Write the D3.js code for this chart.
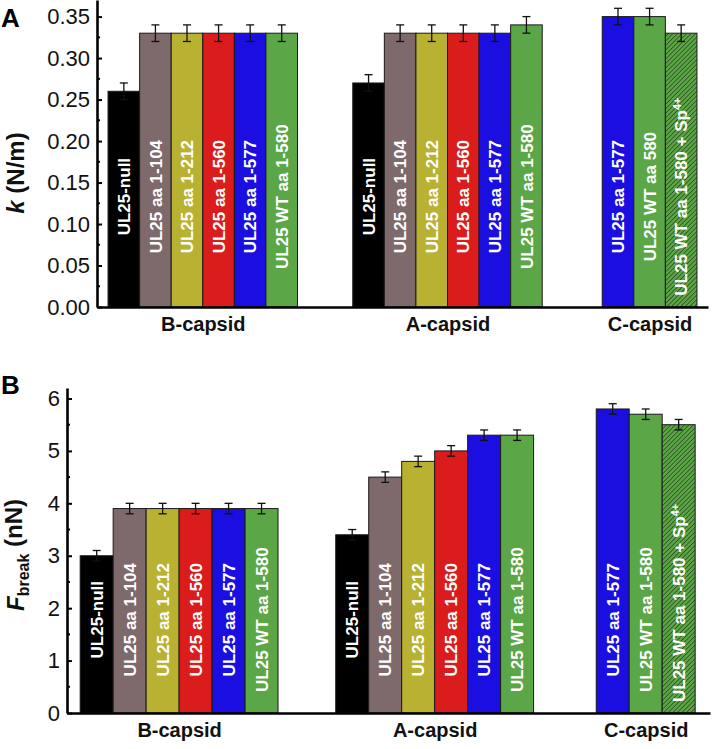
<!DOCTYPE html>
<html>
<head>
<meta charset="utf-8">
<script src="https://cdn.jsdelivr.net/npm/d3@7/dist/d3.min.js"></script>
<style>
  body { margin: 0; background: #fff; }
  text { font-family: "Liberation Sans", Arial, sans-serif; }
</style>
</head>
<body>
<div id="chart"></div>
<script>
// groups and bars
var groupNames = ["B-capsid", "A-capsid", "C-capsid"];
var barGroup = [0, 0, 0, 0, 0, 0, 1, 1, 1, 1, 1, 1, 2, 2, 2];
var barVariant = ["null", "104", "212", "560", "577", "580",
                  "null", "104", "212", "560", "577", "580",
                  "577", "580", "sp"];

var kLabels = ["UL25-null", "UL25 aa 1-104", "UL25 aa 1-212", "UL25 aa 1-560", "UL25 aa 1-577", "UL25 WT aa 1-580",
               "UL25-null", "UL25 aa 1-104", "UL25 aa 1-212", "UL25 aa 1-560", "UL25 aa 1-577", "UL25 WT aa 1-580",
               "UL25 aa 1-577", "UL25 WT aa 580", "UL25 WT aa 1-580 + Sp"];
var fLabels = ["UL25-null", "UL25 aa 1-104", "UL25 aa 1-212", "UL25 aa 1-560", "UL25 aa 1-577", "UL25 WT aa 1-580",
               "UL25-null", "UL25 aa 1-104", "UL25 aa 1-212", "UL25 aa 1-560", "UL25 aa 1-577", "UL25 WT aa 1-580",
               "UL25 aa 1-577", "UL25 WT aa 1-580", "UL25 WT aa 1-580 + Sp"];

// spring constant k (N/m)
var kValues = [0.26, 0.33, 0.33, 0.33, 0.33, 0.33,
               0.27, 0.33, 0.33, 0.33, 0.33, 0.34,
               0.35, 0.35, 0.33];
var kErrors = [0.01, 0.01, 0.01, 0.01, 0.01, 0.01,
               0.01, 0.01, 0.01, 0.01, 0.01, 0.01,
               0.01, 0.01, 0.01];
var kTicks = [0, 0.05, 0.10, 0.15, 0.20, 0.25, 0.30, 0.35];

// breaking force (nN)
var fValues = [3.0, 3.9, 3.9, 3.9, 3.9, 3.9,
               3.4, 4.5, 4.8, 5.0, 5.3, 5.3,
               5.8, 5.7, 5.5];
var fErrors = [0.1, 0.1, 0.1, 0.1, 0.1, 0.1,
               0.1, 0.1, 0.1, 0.1, 0.1, 0.1,
               0.1, 0.1, 0.1];
var fTicks = [0, 1, 2, 3, 4, 5, 6];

var colors = {
  "null": "#000000",
  "104": "#7e6a6a",
  "212": "#b9b131",
  "560": "#da1c1c",
  "577": "#1a0fe0",
  "580": "#5ba646",
  "sp": "url(#hatch)"
};

var W = 714, H = 749;
var gaps = [1.75, 1.9]; // gap (in bar widths) between groups

// slot position of each bar
var slots = [];
var pos = 0;
barGroup.forEach(function(g, i) {
  if (i > 0 && g !== barGroup[i - 1]) pos += gaps[g - 1];
  slots.push(pos);
  pos += 1;
});
var totalSlots = pos;

var svg = d3.select("#chart").append("svg")
  .attr("width", W)
  .attr("height", H);

var defs = svg.append("defs");
var pat = defs.append("pattern")
  .attr("id", "hatch")
  .attr("patternUnits", "userSpaceOnUse")
  .attr("width", 3.2)
  .attr("height", 3.2)
  .attr("patternTransform", "rotate(45)");
pat.append("rect").attr("width", 3.2).attr("height", 3.2).attr("fill", "#5ba646");
pat.append("line")
  .attr("x1", 0).attr("y1", 0).attr("x2", 0).attr("y2", 3.2)
  .attr("stroke", "#1f3a14").attr("stroke-width", 1.3);

var drawPanel = function(opt) {
  var x = d3.scaleLinear()
    .domain([-opt.padL, totalSlots + opt.padR])
    .range([opt.left, opt.right]);
  var y = d3.scaleLinear()
    .domain([0, opt.yMax])
    .range([opt.bottom, opt.top]);
  var bw = x(1) - x(0);

  var g = svg.append("g");

  var bars = g.selectAll("g.bar")
    .data(opt.values.map(function(v, i) {
      return { v: v, e: opt.errors[i], slot: slots[i], variant: barVariant[i], label: opt.labels[i] };
    }))
    .enter().append("g")
    .attr("class", "bar");

  bars.append("rect")
    .attr("x", function(d) { return x(d.slot); })
    .attr("y", function(d) { return y(d.v); })
    .attr("width", bw)
    .attr("height", function(d) { return y(0) - y(d.v); })
    .attr("fill", function(d) { return colors[d.variant]; })
    .attr("stroke", "#1a1a1a")
    .attr("stroke-width", 1);

  // error bars
  bars.append("line")
    .attr("x1", function(d) { return x(d.slot + 0.5); })
    .attr("x2", function(d) { return x(d.slot + 0.5); })
    .attr("y1", function(d) { return y(d.v - d.e); })
    .attr("y2", function(d) { return y(d.v + d.e); })
    .attr("stroke", "#111").attr("stroke-width", 1.3);
  bars.append("line")
    .attr("x1", function(d) { return x(d.slot + 0.5) - 4; })
    .attr("x2", function(d) { return x(d.slot + 0.5) + 4; })
    .attr("y1", function(d) { return y(d.v + d.e); })
    .attr("y2", function(d) { return y(d.v + d.e); })
    .attr("stroke", "#111").attr("stroke-width", 1.3);
  bars.append("line")
    .attr("x1", function(d) { return x(d.slot + 0.5) - 4; })
    .attr("x2", function(d) { return x(d.slot + 0.5) + 4; })
    .attr("y1", function(d) { return y(d.v - d.e); })
    .attr("y2", function(d) { return y(d.v - d.e); })
    .attr("stroke", "#111").attr("stroke-width", 1.3);

  // rotated labels inside bars
  var lab = bars.append("text")
    .attr("text-anchor", "middle")
    .attr("dy", "0.36em")
    .attr("fill", "#fff")
    .attr("font-weight", "bold")
    .attr("font-size", 17);
  lab.append("tspan").text(function(d) { return d.label; });
  lab.filter(function(d) { return d.variant === "sp"; })
    .append("tspan")
    .attr("dy", "-0.55em")
    .attr("font-size", 11)
    .text("4+");
  lab.attr("transform", function(d) {
    // keep long labels clear of the baseline
    var len = this.getComputedTextLength();
    var cy = y(opt.labelMid);
    if (cy + len / 2 > y(0) - 11) cy = y(0) - 11 - len / 2;
    return "translate(" + x(d.slot + 0.5) + "," + cy + ") rotate(-90)";
  });

  // y axis
  var yAxis = d3.axisLeft(y)
    .tickValues(opt.ticks)
    .tickSizeInner(-5)
    .tickSizeOuter(0)
    .tickPadding(7)
    .tickFormat(opt.fmt);
  var ya = g.append("g")
    .attr("transform", "translate(" + opt.left + ",0)")
    .call(yAxis);
  ya.select(".domain").attr("stroke", "#000").attr("stroke-width", 2.6);
  ya.selectAll(".tick line").attr("stroke", "#000").attr("stroke-width", 2);
  ya.selectAll(".tick text")
    .attr("font-size", 22)
    .attr("fill", "#111")
    .style("font-family", "'Liberation Sans', Arial, sans-serif");

  var step = opt.ticks[1] - opt.ticks[0];
  var minorTicks = opt.ticks.slice(0, -1).map(function(t, i) {
    return (t + opt.ticks[i + 1]) / 2;
  });
  if (opt.yMax > opt.ticks[opt.ticks.length - 1] + step / 2) {
    minorTicks.push(opt.ticks[opt.ticks.length - 1] + step / 2);
  }
  minorTicks.forEach(function(t) {
    g.append("line")
      .attr("x1", opt.left).attr("x2", opt.left + 3)
      .attr("y1", y(t)).attr("y2", y(t))
      .attr("stroke", "#000").attr("stroke-width", 2);
  });

  // x axis with group names
  var groupCenters = groupNames.map(function(n, gi) {
    var idx = barGroup.map(function(b, i) { return b === gi ? i : -1; })
      .filter(function(i) { return i >= 0; });
    return (slots[idx[0]] + slots[idx[idx.length - 1]] + 1) / 2;
  });
  var xAxis = d3.axisBottom(x)
    .tickValues(groupCenters)
    .tickSize(0)
    .tickPadding(10)
    .tickFormat(function(d, i) { return groupNames[i]; });
  var xa = g.append("g")
    .attr("transform", "translate(0," + opt.bottom + ")")
    .call(xAxis);
  xa.select(".domain").attr("stroke", "#000").attr("stroke-width", 2.6);
  xa.selectAll(".tick text")
    .attr("font-size", 20)
    .attr("font-weight", "bold")
    .attr("fill", "#111")
    .style("font-family", "'Liberation Sans', Arial, sans-serif");

  // panel letter
  g.append("text")
    .attr("x", 1).attr("y", opt.letterY)
    .attr("font-size", 26)
    .attr("font-weight", "bold")
    .text(opt.letter);

  // y title
  var yt = g.append("text")
    .attr("transform", "translate(" + 24 + "," + opt.titleY + ") rotate(-90)")
    .attr("text-anchor", "middle")
    .attr("font-size", 24)
    .attr("font-weight", "bold")
    .attr("fill", "#111");
  opt.title(yt);
};

drawPanel({
  values: kValues, errors: kErrors, labels: kLabels, ticks: kTicks,
  fmt: d3.format(".2f"), yMax: 0.37,
  left: 97, right: 708, top: 0, bottom: 307,
  padL: 0.35, padR: 0.35, labelMid: 0.133,
  letter: "A", letterY: 27, titleY: 173,
  title: function(t) {
    t.append("tspan").attr("font-style", "italic").text("k");
    t.append("tspan").text(" (N/m)");
  }
});

drawPanel({
  values: fValues, errors: fErrors, labels: fLabels, ticks: fTicks,
  fmt: d3.format("d"), yMax: 6.2,
  left: 67, right: 710, top: 388, bottom: 713,
  padL: 0.4, padR: 0.45, labelMid: 1.78,
  letter: "B", letterY: 394, titleY: 555,
  title: function(t) {
    t.append("tspan").attr("font-style", "italic").text("F");
    t.append("tspan").attr("font-size", 16).attr("dy", "0.3em").text("break");
    t.append("tspan").attr("dy", "-0.3em").text(" (nN)");
  }
});
</script>
</body>
</html>
